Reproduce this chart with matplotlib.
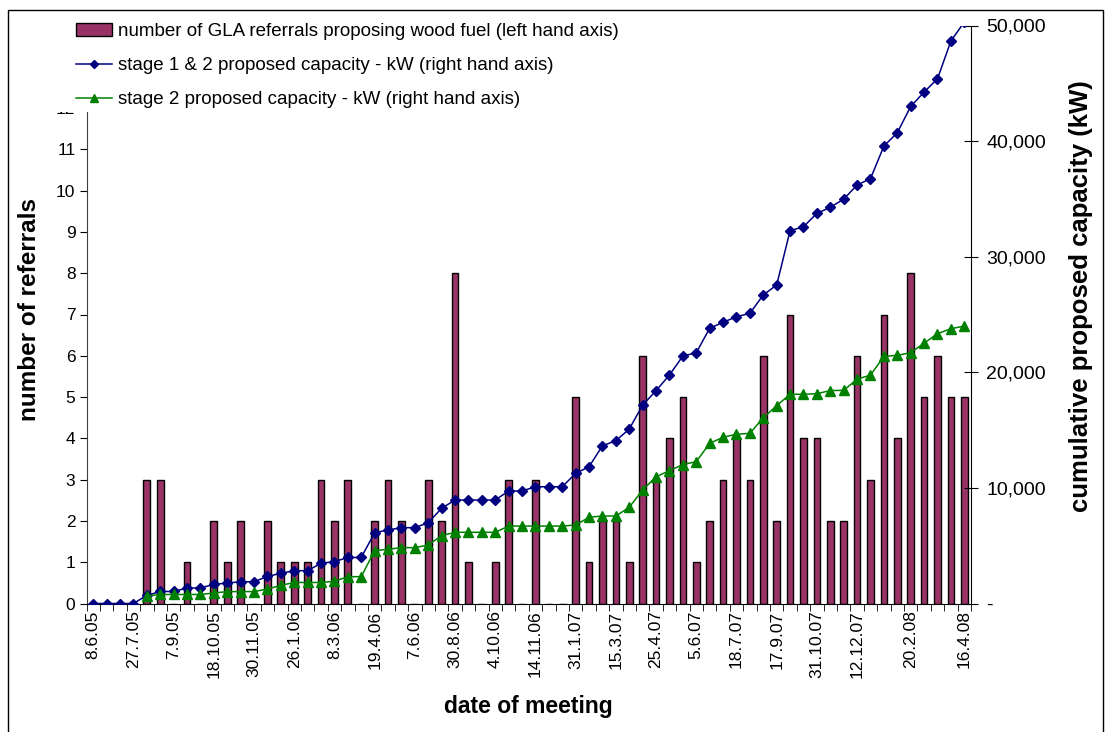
import matplotlib.pyplot as plt
import numpy as np
from matplotlib.lines import Line2D
from matplotlib.patches import Patch, Rectangle
from matplotlib.ticker import FuncFormatter

plt.rcParams['font.family'] = ['Liberation Sans', 'DejaVu Sans']

# number of referrals per meeting (left hand axis)
referrals = [0, 0, 0, 0, 3, 3, 0, 1, 0, 2,
             1, 2, 0, 2, 1, 1, 1, 3, 2, 3,
             0, 2, 3, 2, 0, 3, 2, 8, 1, 0,
             1, 3, 0, 3, 0, 0, 5, 1, 2, 2,
             1, 6, 3, 4, 5, 1, 2, 3, 4, 3,
             6, 2, 7, 4, 4, 2, 2, 6, 3, 7,
             4, 8, 5, 6, 5, 5]

# cumulative proposed capacity, kW (right hand axis)
stage12_kw = [0, 0, 0, 0, 700, 1040, 1040, 1340, 1340, 1660,
              1770, 1880, 1880, 2340, 2610, 2840, 2840, 3480, 3620, 3980,
              3980, 6120, 6360, 6560, 6560, 6990, 8240, 8950, 8950, 8950,
              8950, 9730, 9730, 10100, 10100, 10100, 11260, 11830, 13650, 14080,
              15090, 17170, 18410, 19770, 21410, 21690, 23810, 24320, 24810, 25100,
              26690, 27550, 32250, 32590, 33750, 34270, 34980, 36200, 36750, 39570,
              40720, 43000, 44240, 45390, 48660, 50300]

stage2_kw = [np.nan, np.nan, np.nan, np.nan, 650, 780, 780, 780, 780, 910,
             1030, 1030, 1030, 1250, 1570, 1820, 1820, 1820, 1920, 2320,
             2320, 4570, 4690, 4830, 4830, 5060, 5870, 6160, 6160, 6160,
             6160, 6700, 6700, 6700, 6700, 6700, 6790, 7460, 7570, 7570,
             8320, 9820, 10970, 11490, 12020, 12270, 13860, 14380, 14640, 14720,
             16070, 17110, 18100, 18100, 18150, 18420, 18440, 19400, 19760, 21370,
             21470, 21700, 22520, 23340, 23770, 24000]

# only some meeting dates are labelled on the axis
label_idx = [0, 3, 6, 9, 12, 15, 18, 21, 24, 27, 30, 33, 36, 39, 42, 45,
             48, 51, 54, 57, 61, 65]
date_labels = ['8.6.05', '27.7.05', '7.9.05', '18.10.05', '30.11.05', '26.1.06',
               '8.3.06', '19.4.06', '7.6.06', '30.8.06', '4.10.06', '14.11.06',
               '31.1.07', '15.3.07', '25.4.07', '5.6.07', '18.7.07', '17.9.07',
               '31.10.07', '12.12.07', '20.2.08', '16.4.08']

bar_col = '#993366'
blue = '#000080'
green = '#008000'

W, H = 1109, 732
fig = plt.figure(figsize=(W / 100, H / 100), dpi=100)
ax = fig.add_axes([86.5 / W, 1 - 603.5 / H, (971 - 86.5) / W, 578 / H])
ax2 = ax.twinx()

x = np.arange(len(referrals))
ax.bar(x, referrals, width=0.5, color=bar_col, edgecolor='black', linewidth=1)
ax2.plot(x, stage12_kw, color=blue, lw=1.1, marker='D', markersize=5.5)
ax2.plot(x, stage2_kw, color=green, lw=1.1, marker='^', markersize=7)

ax.set_xlim(-0.5, len(referrals) - 0.5)
ax.set_ylim(0, 14)
ax2.set_ylim(0, 50000)
ax.set_yticks(range(0, 15))
ax2.set_yticks(range(0, 50001, 10000))
ax2.yaxis.set_major_formatter(FuncFormatter(lambda v, p: '-' if v == 0 else f'{int(v):,}'))

ax.set_xticks(label_idx)
ax.set_xticklabels(date_labels, rotation=90)
ax.set_xticks(np.arange(-0.5, len(referrals)), minor=True)
ax.tick_params(axis='x', which='major', length=0, pad=5, labelsize=12.5)
ax.tick_params(axis='x', which='minor', length=5, direction='out')
ax.tick_params(axis='y', length=5, direction='out', labelsize=12.5, pad=3)
ax2.tick_params(axis='y', length=10, direction='inout', labelsize=14, pad=6)

for a in (ax, ax2):
    a.spines['top'].set_visible(False)
ax.spines['right'].set_visible(False)
ax.spines['left'].set_color('#404040')
ax2.spines['left'].set_visible(False)
ax2.spines['bottom'].set_visible(False)

ax.set_xlabel('date of meeting', fontsize=16.5, fontweight='bold', labelpad=12)
ax.set_ylabel('number of referrals', fontsize=17.5, fontweight='bold')
ax2.set_ylabel('cumulative proposed capacity (kW)', fontsize=18.5, fontweight='bold')
ax.yaxis.set_label_coords(-0.052, 0.508)
ax2.yaxis.set_label_coords(1.111, 0.532)

# chart area border and legend background
fig.add_artist(Rectangle((8 / W, -0.1), (1103 - 8) / W, 1.1 - 10 / H,
                         transform=fig.transFigure, fill=False, ec='black', lw=1))
fig.add_artist(Rectangle((15 / W, 1 - 112 / H), (645 - 15) / W, 100 / H,
                         transform=fig.transFigure, fc='white', ec='none', zorder=4))

handles = [Patch(facecolor=bar_col, edgecolor='black'),
           Line2D([], [], color=blue, marker='D', markersize=4.5, lw=1.1),
           Line2D([], [], color=green, marker='^', markersize=5.5, lw=1.1)]
labels = ['number of GLA referrals proposing wood fuel (left hand axis)',
          'stage 1 & 2 proposed capacity - kW (right hand axis)',
          'stage 2 proposed capacity - kW (right hand axis)']
fig.legend(handles, labels, loc='upper left', bbox_to_anchor=(76 / W, 1 - 23 / H),
           frameon=False, fontsize=13.5, handlelength=1.9, handletextpad=0.32,
           labelspacing=0.9, borderpad=0, borderaxespad=0)

plt.savefig('out.png', dpi=100)
